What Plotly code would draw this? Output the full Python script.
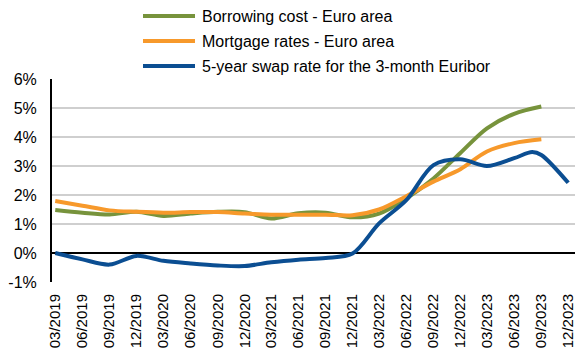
import plotly.graph_objects as go

# Quarter-end observations (month of quarter end)
quarters = ["2019-03-01", "2019-06-01", "2019-09-01", "2019-12-01",
            "2020-03-01", "2020-06-01", "2020-09-01", "2020-12-01",
            "2021-03-01", "2021-06-01", "2021-09-01", "2021-12-01",
            "2022-03-01", "2022-06-01", "2022-09-01", "2022-12-01",
            "2023-03-01", "2023-06-01", "2023-09-01", "2023-12-01"]
tick_labels = ["03/2019", "06/2019", "09/2019", "12/2019",
               "03/2020", "06/2020", "09/2020", "12/2020",
               "03/2021", "06/2021", "09/2021", "12/2021",
               "03/2022", "06/2022", "09/2022", "12/2022",
               "03/2023", "06/2023", "09/2023", "12/2023"]

borrowing_cost = [1.48, 1.39, 1.33, 1.42, 1.28, 1.36, 1.42, 1.41,
                  1.19, 1.37, 1.39, 1.23, 1.36, 1.88, 2.57, 3.45,
                  4.30, 4.80, 5.05]
mortgage_rates = [1.79, 1.63, 1.47, 1.42, 1.39, 1.41, 1.41, 1.36,
                  1.32, 1.32, 1.32, 1.30, 1.50, 1.96, 2.46, 2.89,
                  3.50, 3.79, 3.92]

swap_dates = ["2019-03-01", "2019-06-01", "2019-09-01", "2019-12-01",
              "2020-03-01", "2020-06-01", "2020-09-01", "2020-12-01",
              "2021-03-01", "2021-06-01", "2021-09-01", "2021-12-01",
              "2022-03-01", "2022-06-01", "2022-09-01", "2022-12-01",
              "2023-03-01", "2023-06-01", "2023-08-01", "2023-09-01",
              "2023-12-01"]
swap_rate = [0.00, -0.22, -0.40, -0.10, -0.27, -0.36, -0.43, -0.45,
             -0.32, -0.23, -0.17, -0.02, 1.02, 1.82, 3.03, 3.23,
             3.00, 3.27, 3.48, 3.38, 2.42]

y_ticks = [-1, 0, 1, 2, 3, 4, 5, 6]
y_tick_labels = ["-1%", "0%", "1%", "2%", "3%", "4%", "5%", "6%"]

series = [
    ("Borrowing cost - Euro area", quarters[:len(borrowing_cost)], borrowing_cost, "#77933C"),
    ("Mortgage rates - Euro area", quarters[:len(mortgage_rates)], mortgage_rates, "#F7992B"),
    ("5-year swap rate for the 3-month Euribor", swap_dates, swap_rate, "#0B4E92"),
]

FONT = "Liberation Sans, Arial, sans-serif"
W, H = 578, 352
L, R, T, B = 52, 3, 79, 70

fig = go.Figure()
for name, xs, ys, color in series:
    fig.add_trace(go.Scatter(
        x=xs, y=ys, name=name, mode="lines",
        line=dict(color=color, width=4, shape="spline", smoothing=0.9),
        showlegend=False,
    ))

# Hand-placed legend: colored line sample followed by the series name
def px_x(p):
    return (p - L) / (W - L - R)

def px_y(p):
    return (H - B - p) / (H - T - B)

shapes = []
annotations = []
for k, (name, _, _, color) in enumerate(series):
    yy = px_y(16 + 25 * k)
    shapes.append(dict(type="line", xref="paper", yref="paper",
                       x0=px_x(143), x1=px_x(195), y0=yy, y1=yy,
                       line=dict(color=color, width=4)))
    annotations.append(dict(xref="paper", yref="paper", x=px_x(200), y=yy,
                            text=name, showarrow=False, xanchor="left",
                            yanchor="middle", font=dict(size=16, color="#000000",
                                                        family=FONT)))

fig.update_layout(
    width=W, height=H,
    margin=dict(l=L, r=R, t=T, b=B),
    paper_bgcolor="white", plot_bgcolor="white",
    font=dict(family=FONT, color="#000000"),
    shapes=shapes, annotations=annotations,
    showlegend=False,
)

fig.update_xaxes(
    type="date",
    range=["2019-02-18", "2023-12-24"],
    tickvals=quarters, ticktext=tick_labels,
    tickangle=-90, tickfont=dict(size=15, family=FONT, color="#000000"),
    showgrid=False, showline=False, zeroline=False,
    ticks="outside", ticklen=5, tickcolor="rgba(0,0,0,0)",
)
fig.update_yaxes(
    range=[-1, 6],
    tickvals=y_ticks, ticktext=y_tick_labels,
    tickfont=dict(size=16, family=FONT, color="#000000"),
    showgrid=True, gridcolor="#cfcfcf", gridwidth=1.5,
    zeroline=True, zerolinecolor="#000000", zerolinewidth=2,
    showline=True, linecolor="#000000", linewidth=2,
    ticks="outside", ticklen=10, tickcolor="rgba(0,0,0,0)",
)

fig.write_html("out.html")
